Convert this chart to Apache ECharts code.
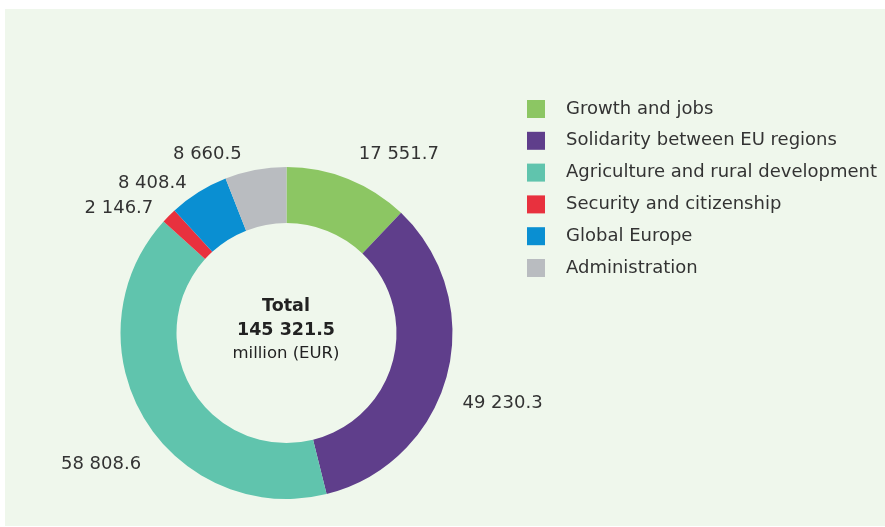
<!DOCTYPE html>
<html>
<head>
<meta charset="utf-8">
<script src="https://cdn.jsdelivr.net/npm/echarts@6/dist/echarts.min.js"></script>
<style>html,body{margin:0;padding:0;background:#fff;}#c{width:885px;height:527px;}</style>
</head>
<body>
<div id="c"></div>
<script>
var categories = ['Growth and jobs', 'Solidarity between EU regions', 'Agriculture and rural development', 'Security and citizenship', 'Global Europe', 'Administration'];
var values = [17551.7, 49230.3, 58808.6, 2146.7, 8408.4, 8660.5];
var valueLabels = ['17 551.7', '49 230.3', '58 808.6', '2 146.7', '8 408.4', '8 660.5'];
var totalLabel = '145 321.5';
var colors = ['#8cc663', '#5f3e8b', '#60c4ad', '#e8313e', '#0a8fd2', '#b9bcc0'];
var labelShift = [[0, -11], [-4, 24], [15, 38], [0, 3], [1, 4], [-6, -1]];

var chart = echarts.init(document.getElementById('c'));
var font = 'DejaVu Sans';
chart.setOption({
  backgroundColor: '#ffffff',
  animation: false,
  graphic: [{
    type: 'rect', left: 5, top: 9, z: -10,
    shape: { width: 880, height: 517 },
    style: { fill: '#eff7ec' }
  }],
  title: {
    left: 281, top: 290, textAlign: 'center',
    text: '{b|Total}\n{b|' + totalLabel + '}\n{n|million (EUR)}',
    textStyle: {
      fontWeight: 'normal',
      rich: {
        b: { fontFamily: font, fontSize: 17.5, fontWeight: 'bold', color: '#222', lineHeight: 23.5, align: 'center' },
        n: { fontFamily: font, fontSize: 16.5, fontWeight: 'normal', color: '#222', lineHeight: 23.5, align: 'center' }
      }
    }
  },
  legend: {
    orient: 'vertical', left: 522, top: 95, itemWidth: 18, itemHeight: 18, itemGap: 13.8,
    icon: 'rect',
    textStyle: { fontFamily: font, fontSize: 18, color: '#333', padding: [0, 0, 0, 16] },
    data: categories
  },
  series: [{
    type: 'pie',
    center: [286.5, 333],
    radius: [110, 166],
    startAngle: 90,
    clockwise: true,
    avoidLabelOverlap: false,
    silent: true,
    label: {
      show: true, position: 'outside', distance: 5,
      fontFamily: font, fontSize: 18, color: '#333',
      formatter: function (p) { return valueLabels[p.dataIndex]; }
    },
    labelLine: { show: false, length: 15, length2: 0 },
    labelLayout: function (p) {
      var s = labelShift[p.dataIndex];
      return { dx: s[0], dy: s[1] };
    },
    data: categories.map(function (c, i) {
      return { name: c, value: values[i], itemStyle: { color: colors[i] } };
    })
  }]
});
</script>
</body>
</html>
